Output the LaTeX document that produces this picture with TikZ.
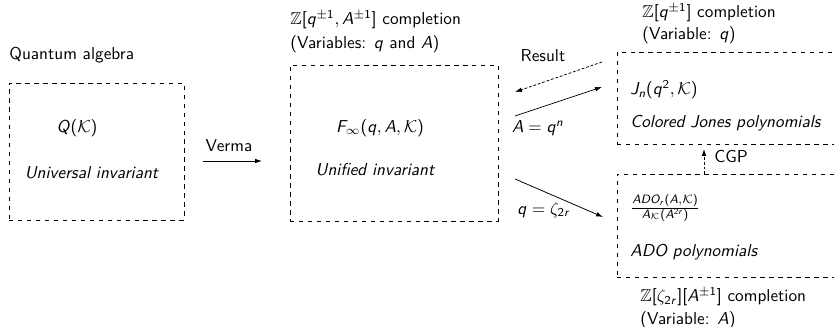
\documentclass[tikz,border=0pt]{standalone}
\usepackage{amssymb}
\DeclareSymbolFont{oldletters}{OML}{cmm}{m}{it}
\DeclareSymbolFont{letters}{OT1}{cmss}{m}{sl}
\DeclareSymbolFont{operators}{OT1}{cmss}{m}{n}
\DeclareMathSymbol{,}{\mathpunct}{oldletters}{"3B}
\DeclareMathSymbol{\zeta}{\mathord}{oldletters}{"10}
\usetikzlibrary{arrows.meta}
\begin{document}
\begin{tikzpicture}[x=0.58pt,y=-0.58pt,
  every node/.style={font=\sffamily, inner sep=0pt},
  box/.style={draw, dash pattern=on 2.6pt off 2.6pt, line width=0.4pt},
  txt/.style={anchor=west},
  arr/.style={-{Latex[length=4pt,width=2.6pt]}, line width=0.45pt},
  dotarr/.style={arr, dash pattern=on 1.6pt off 1.1pt}]
\clip (0,0) rectangle (834,327);
\useasboundingbox (0,0) rectangle (834,327);
% boxes
\node[box, minimum width=101.5pt, minimum height=79.46pt] (univ) at (96.5,151.5) {};
\node[box, minimum width=120.64pt, minimum height=90.48pt] (unif) at (394,143) {};
\node[box, minimum width=129.34pt, minimum height=53.36pt] (cj) at (728.5,98) {};
\node[box, minimum width=129.34pt, minimum height=59.74pt] (ado) at (728.5,225.5) {};
% left
\node[txt] (qa) at (9,55) {Quantum algebra};
\node (qk) at (77,128) {$Q(\mathcal{K})$};
\node (ui) at (91.5,173) {\itshape Universal invariant};
\node (verma) at (229,146) {Verma};
% middle
\node[txt] (zq1) at (290,20) {$\mathbb{Z}[q^{\pm1},A^{\pm1}]$ completion};
\node[txt] (v1) at (290,44) {(Variables: $q$ and $A$)};
\node (finf) at (380,128) {$F_\infty(q,A,\mathcal{K})$};
\node (unf) at (375,170) {\itshape Unified invariant};
% arrow labels
\node (res) at (543,56) {Result};
\node (aqn) at (538,128) {$A=q^n$};
\node (qz) at (544,210) {$q=\zeta_{2r}$};
% top right
\node[txt] (zq2) at (642,13) {$\mathbb{Z}[q^{\pm1}]$ completion};
\node[txt] (v2) at (642,35) {(Variable: $q$)};
\node[txt] (jn) at (630,90) {$J_n(q^2,\mathcal{K})$};
\node[txt] (cjp) at (630,123) {\itshape Colored Jones polynomials};
\node[txt] (cgp) at (714,157) {CGP};
% bottom right
\node[txt] (adof) at (630,208) {$\frac{ADO_r(A,\mathcal{K})}{A_{\mathcal{K}}(A^{2r})}$};
\node[txt] (adop) at (630,252) {\itshape ADO polynomials};
\node[txt] (zq3) at (640,297) {$\mathbb{Z}[\zeta_{2r}][A^{\pm1}]$ completion};
\node[txt] (v3) at (640,320) {(Variable: $A$)};
% connectors
\coordinate (va) at (203,161);
\coordinate (vb) at (262,161);
\coordinate (ra) at (602,62);
\coordinate (rb) at (515,92);
\coordinate (aa) at (515,116);
\coordinate (ab) at (602,87);
\coordinate (za) at (515,179);
\coordinate (zb) at (603,217);
\coordinate (ca) at (704,174);
\coordinate (cb) at (704,149);
\draw[arr] (va) -- (vb);
\draw[dotarr] (ra) -- (rb);
\draw[arr] (aa) -- (ab);
\draw[arr] (za) -- (zb);
\draw[dotarr] (ca) -- (cb);
\end{tikzpicture}
\end{document}
